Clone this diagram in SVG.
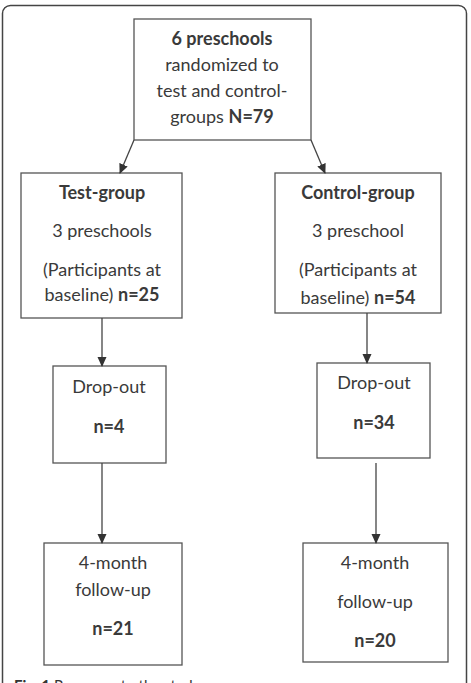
<svg xmlns="http://www.w3.org/2000/svg" width="471" height="683" viewBox="0 0 471 683">
<defs>
<marker id="ah" markerWidth="10" markerHeight="10" refX="9" refY="5" orient="auto" markerUnits="userSpaceOnUse">
<path d="M0,0.5 L10,5 L0,9.5 Z" fill="#333"/>
</marker>
<style>
.box{fill:#fff;stroke:#555;stroke-width:1.3}
.t{font-family:Lato,"Open Sans",sans-serif;font-size:18px;fill:#3a3a3a;text-anchor:middle}
.b{font-weight:bold}
.c{stroke:#444;stroke-width:1.3;fill:none;marker-end:url(#ah)}
</style>
</defs>
<rect x="2.5" y="5.5" width="464" height="700" rx="8" fill="#fff" stroke="#444" stroke-width="1.5"/>
<g id="top">
<rect class="box" x="134" y="19" width="177" height="121"/>
<text class="t b" x="222" y="45">6 preschools</text>
<text class="t" x="222" y="71">randomized to</text>
<text class="t" x="222" y="97">test and control-</text>
<text class="t" x="222" y="123">groups <tspan class="b">N=79</tspan></text>
</g>
<g id="test">
<rect class="box" x="21" y="173" width="161" height="145"/>
<text class="t b" x="102" y="199">Test-group</text>
<text class="t" x="102" y="237">3 preschools</text>
<text class="t" x="102" y="276">(Participants at</text>
<text class="t" x="102" y="301">baseline) <tspan class="b">n=25</tspan></text>
</g>
<g id="control">
<rect class="box" x="275" y="173" width="166" height="140"/>
<text class="t b" x="358" y="199">Control-group</text>
<text class="t" x="358" y="237">3 preschool</text>
<text class="t" x="358" y="276">(Participants at</text>
<text class="t" x="358" y="304">baseline) <tspan class="b">n=54</tspan></text>
</g>
<g id="dropTest">
<rect class="box" x="53" y="366" width="113" height="97"/>
<text class="t" x="109" y="393">Drop-out</text>
<text class="t b" x="109" y="433">n=4</text>
</g>
<g id="dropControl">
<rect class="box" x="317" y="363" width="113" height="95"/>
<text class="t" x="374" y="389">Drop-out</text>
<text class="t b" x="374" y="429">n=34</text>
</g>
<g id="fuTest">
<rect class="box" x="44" y="543" width="138" height="122"/>
<text class="t" x="113" y="569">4-month</text>
<text class="t" x="113" y="596">follow-up</text>
<text class="t b" x="113" y="635">n=21</text>
</g>
<g id="fuControl">
<rect class="box" x="303" y="543" width="145" height="119"/>
<text class="t" x="375" y="569">4-month</text>
<text class="t" x="375" y="608">follow-up</text>
<text class="t b" x="375" y="647">n=20</text>
</g>
<g id="connectors">
<line class="c" x1="134" y1="140" x2="120" y2="173"/>
<line class="c" x1="311" y1="140" x2="325" y2="173"/>
<line class="c" x1="102" y1="318" x2="102" y2="366"/>
<line class="c" x1="367" y1="313" x2="367" y2="363"/>
<line class="c" x1="102" y1="463" x2="102" y2="543"/>
<line class="c" x1="376" y1="463" x2="376" y2="543"/>
</g>
<text x="14" y="691" font-family="Lato,'Open Sans',sans-serif" font-size="15" fill="#333"><tspan font-weight="bold">Fig. 1</tspan> Response to the study</text>
</svg>
